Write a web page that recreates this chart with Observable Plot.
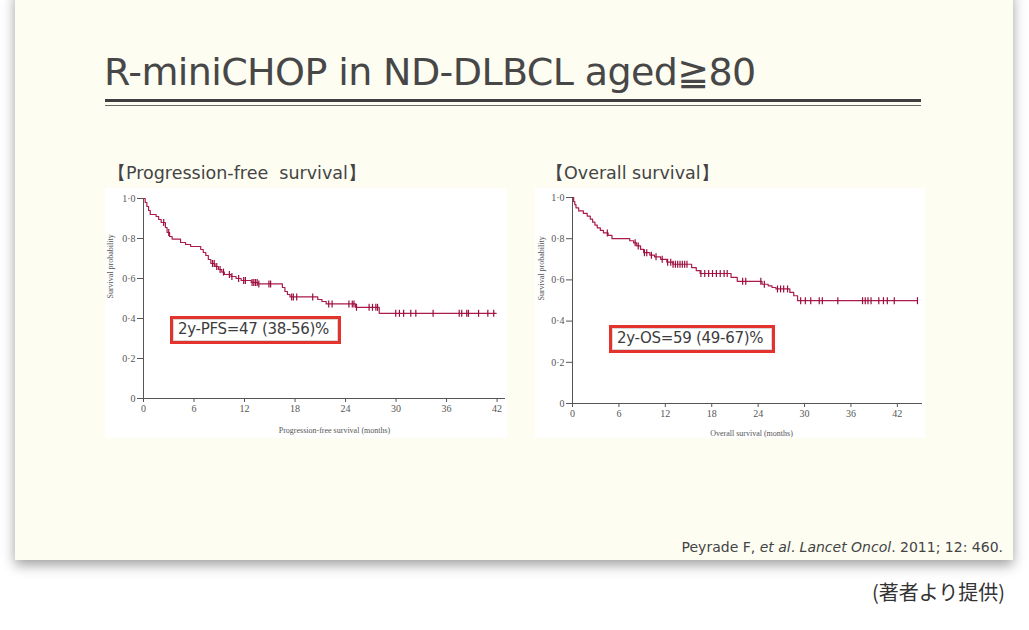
<!DOCTYPE html>
<html>
<head>
<meta charset="utf-8">
<script src="https://cdn.jsdelivr.net/npm/d3@7"></script>
<script src="https://cdn.jsdelivr.net/npm/@observablehq/plot@0.6"></script>
<style>
  html, body { margin:0; padding:0; background:#ffffff; }
  body { width:1029px; height:630px; position:relative; overflow:hidden; font-family:"DejaVu Sans", Verdana, sans-serif; }
  #card { position:absolute; left:15px; top:-10px; width:998px; height:570px; background:#fdfdf2; box-shadow:0 5px 12px rgba(0,0,0,0.38); }
  #title { position:absolute; left:104px; top:52px; font-size:38px; color:#474747; letter-spacing:-0.6px; white-space:nowrap; line-height:1.1; }
  #rule1 { position:absolute; left:105px; top:99px; width:816px; height:3px; background:#3f3f3f; }
  #rule2 { position:absolute; left:105px; top:105px; width:816px; height:1px; background:#6a6a6a; }
  .sub { position:absolute; top:161px; font-size:17.5px; color:#444; white-space:pre; letter-spacing:0px; }
  .panel { position:absolute; top:188px; }
  .box { position:absolute; background:#fff; border:3px solid #e4322c; box-shadow: inset 0 0 0 1px #d8d8d8; color:#3c3c3c; font-size:15px; letter-spacing:-0.3px; white-space:nowrap; line-height:21px; padding:0 0 0 5px; box-sizing:border-box; }
  #cite { position:absolute; right:26px; top:539px; font-size:14px; color:#444; white-space:nowrap; }
  #credit { position:absolute; right:24px; top:577px; font-size:20px; color:#333; font-family:"Noto Sans CJK JP", sans-serif; white-space:nowrap; }
</style>
</head>
<body>
<div id="card"></div>
<div id="title">R-miniCHOP in ND-DLBCL aged≧80</div>
<div id="rule1"></div>
<div id="rule2"></div>
<div class="sub" style="left:108px">【Progression-free  survival】</div>
<div class="sub" style="left:546px">【Overall survival】</div>
<div id="pfs" class="panel" style="left:105px"></div>
<div id="os" class="panel" style="left:535px"></div>
<div class="box" style="left:170px; top:316px; width:171px; height:28px;">2y-PFS=47 (38-56)%</div>
<div class="box" style="left:609px; top:325px; width:166px; height:28px;">2y-OS=59 (49-67)%</div>
<div id="cite">Peyrade F, <i>et al</i>. <i>Lancet Oncol</i>. 2011; 12: 460.</div>
<div id="credit">(著者より提供)</div>
<script>
// ---- Data ----
const xTicks = [0, 6, 12, 18, 24, 30, 36, 42];
const yTicks = [0, 0.2, 0.4, 0.6, 0.8, 1.0];

// Progression-free survival: step change times (months) and survival after each step
const pfsTimes = [0, 0.2, 0.4, 0.6, 0.8, 1.5, 1.8, 2.1, 2.6, 2.8, 3.1, 3.4, 4.4, 5.0, 5.6, 6.8, 7.1, 7.4, 7.7, 8.0, 8.5, 8.9, 9.3, 9.6, 10.4, 11.0, 11.6, 12.8, 13.6, 16.5, 16.8, 17.1, 17.4, 20.7, 21.2, 21.7, 25.2, 28.0, 41.9];
const pfsSurv  = [1.0, 0.98, 0.96, 0.94, 0.92, 0.91, 0.895, 0.88, 0.855, 0.83, 0.81, 0.797, 0.78, 0.77, 0.76, 0.745, 0.73, 0.715, 0.695, 0.675, 0.66, 0.645, 0.632, 0.62, 0.61, 0.60, 0.59, 0.58, 0.573, 0.555, 0.535, 0.52, 0.508, 0.495, 0.485, 0.473, 0.456, 0.426, 0.426];
const pfsCensor = [2.4, 3.0, 8.2, 8.4, 8.7, 9.1, 9.5, 10.2, 10.5, 11.3, 11.9, 12.1, 12.9, 13.1, 13.3, 13.5, 13.7, 14.9, 15.1, 17.6, 17.8, 18.2, 20.1, 22.0, 22.4, 24.4, 24.8, 25.0, 25.3, 26.8, 27.2, 27.6, 27.8, 29.96, 30.4, 30.9, 31.75, 32.35, 34.4, 37.5, 37.8, 38.4, 38.6, 39.8, 40.9, 41.6];

// Overall survival
const osTimes = [0, 0.15, 0.3, 0.45, 0.8, 1.4, 1.9, 2.3, 2.6, 2.9, 3.2, 3.6, 4.0, 4.6, 5.1, 7.4, 7.9, 8.3, 8.8, 9.2, 10.0, 10.6, 11.4, 12.2, 13.0, 15.4, 16.0, 16.5, 20.5, 21.3, 24.5, 25.3, 25.8, 26.3, 28.1, 28.6, 29.1, 44.6];
const osSurv  = [1.0, 0.98, 0.965, 0.95, 0.935, 0.923, 0.91, 0.895, 0.88, 0.866, 0.853, 0.84, 0.828, 0.816, 0.80, 0.79, 0.78, 0.765, 0.748, 0.732, 0.72, 0.712, 0.70, 0.686, 0.676, 0.66, 0.645, 0.631, 0.612, 0.593, 0.579, 0.571, 0.563, 0.556, 0.539, 0.523, 0.499, 0.499];
const osCensor = [4.5, 8.1, 8.5, 9.3, 9.6, 10.2, 10.8, 11.6, 12.3, 12.7, 13.0, 13.3, 13.6, 13.9, 14.2, 14.5, 14.8, 16.6, 17.1, 17.6, 18.1, 18.6, 19.1, 19.6, 20.0, 22.0, 22.4, 24.35, 24.8, 26.5, 26.9, 27.3, 27.8, 29.5, 30.1, 30.8, 31.9, 32.3, 34.3, 37.5, 37.85, 38.2, 38.6, 39.6, 40.2, 40.7, 41.6, 44.6];

const yLabel = "Survival probability";
const pfsXLabel = "Progression-free survival (months)";
const osXLabel = "Overall survival (months)";

const curveColor = "#ab1a4c";
const censorColor = "#990e3e";

function steps(times, surv) { return times.map((t, i) => ({t, s: surv[i]})); }
function survAt(times, surv, t) { let s = surv[0]; for (let i = 0; i < times.length; i++) { if (times[i] <= t) s = surv[i]; } return s; }
function censors(times, surv, cs) { return cs.map(t => ({t, s: survAt(times, surv, t)})); }

const vbar = { draw(context, size) { const h = Math.sqrt(size / Math.PI); context.moveTo(0, -h); context.lineTo(0, h); } };
const fmtY = d => d === 0 ? "0" : d.toFixed(1).replace(".", "·");
const labelFont = "'Liberation Serif', 'DejaVu Serif', serif";

function km(opts) {
  return Plot.plot({
    width: opts.width, height: 250,
    marginLeft: opts.ml, marginRight: opts.mr, marginTop: opts.mt, marginBottom: opts.mb,
    x: {domain: [0, opts.xmax]},
    y: {domain: [0, 1]},
    style: {background: "#ffffff", fontFamily: labelFont, fontSize: "10px", color: "#555", overflow: "visible"},
    marks: [
      Plot.ruleY([0], {stroke: "#555", strokeWidth: 1}),
      Plot.ruleX([0], {stroke: "#555", strokeWidth: 1}),
      Plot.axisX({ticks: xTicks, tickSize: 4, tickPadding: 2, label: null}),
      Plot.axisY({ticks: yTicks, tickFormat: fmtY, tickSize: 6, tickPadding: 2, label: null}),
      Plot.text([opts.xlabel], {frameAnchor: "bottom", dy: opts.xdy, dx: opts.xdx, fontSize: 8, fill: "#555", lineAnchor: "middle"}),
      Plot.text([yLabel], {frameAnchor: "left", dx: opts.ydx, rotate: -90, fontSize: 8, fill: "#555", lineAnchor: "middle"}),
      Plot.line(steps(opts.times, opts.surv), {x: "t", y: "s", curve: "step-after", stroke: curveColor, strokeWidth: 1.2}),
      Plot.dot(censors(opts.times, opts.surv, opts.cens), {x: "t", y: "s", symbol: vbar, r: 3.5, stroke: censorColor, strokeWidth: 1.2, fill: "none"})
    ]
  });
}

const pfsPlot = km({width: 402, ml: 38, mr: 2, mt: 10, mb: 40, xmax: 43, xdy: 32, xdx: 10, ydx: -33,
  xlabel: pfsXLabel, times: pfsTimes, surv: pfsSurv, cens: pfsCensor});
const osPlot = km({width: 390, ml: 37, mr: 3, mt: 9, mb: 35, xmax: 45.25, xdy: 30, xdx: 4, ydx: -31,
  xlabel: osXLabel, times: osTimes, surv: osSurv, cens: osCensor});
document.getElementById("pfs").appendChild(pfsPlot);
document.getElementById("os").appendChild(osPlot);
</script>
</body>
</html>
